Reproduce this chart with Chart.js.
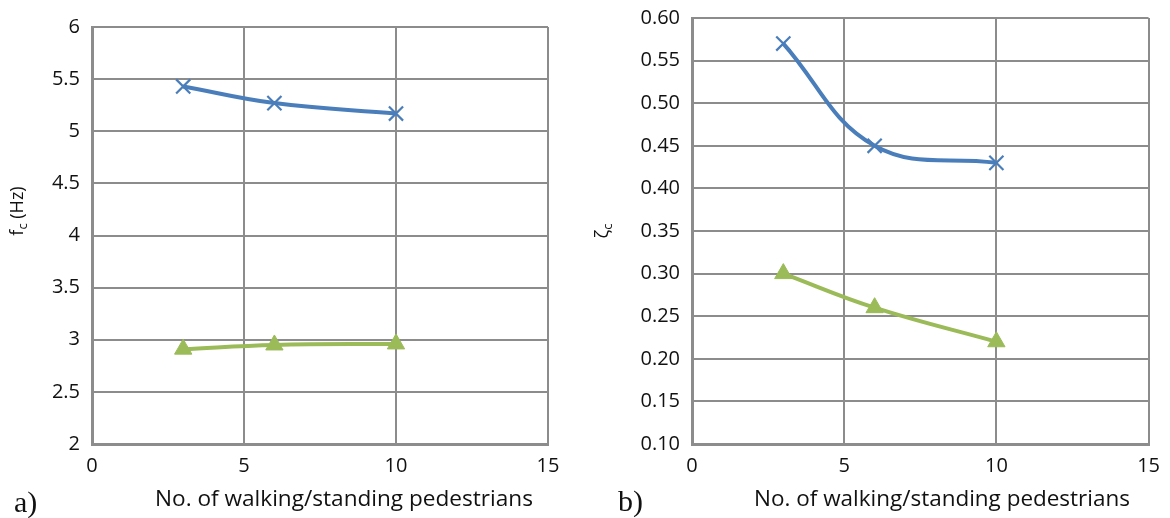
<!DOCTYPE html>
<html>
<head>
<meta charset="utf-8">
<script src="https://cdn.jsdelivr.net/npm/chart.js@4.4.1/dist/chart.umd.min.js"></script>
<style>
  html, body { margin: 0; padding: 0; background: #ffffff; }
  #wrap { position: relative; width: 1170px; height: 518px; overflow: hidden; }
  .panel { position: absolute; top: 0; width: 585px; height: 518px; }
  #panelA { left: 0; }
  #panelB { left: 585px; }
</style>
</head>
<body>
<div id="wrap">
  <div class="panel" id="panelA"><canvas id="chartA" width="585" height="518"></canvas></div>
  <div class="panel" id="panelB"><canvas id="chartB" width="585" height="518"></canvas></div>
</div>
<script>
// Number of pedestrians on the deck
const pedestrians = [3, 6, 10];

// Panel a) frequency f_c (Hz)
const freqCross = [5.43, 5.27, 5.17];
const freqTriangle = [2.91, 2.95, 2.96];

// Panel b) damping ratio zeta_c
const dampCross = [0.57, 0.45, 0.43];
const dampTriangle = [0.30, 0.26, 0.22];

// Axis tick values
const xTicks = [0, 5, 10, 15];
const freqTicks = [2, 2.5, 3, 3.5, 4, 4.5, 5, 5.5, 6];
const dampTicks = [0.10, 0.15, 0.20, 0.25, 0.30, 0.35, 0.40, 0.45, 0.50, 0.55, 0.60];

const xTitle = 'No. of walking/standing pedestrians';

const BLUE = '#4a7ebb';
const GREEN = '#9bbb59';
const GRID = '#8c8c8c';
const TEXT = '#111111';
const SANS = '"Open Sans", "Liberation Sans", sans-serif';
const SERIF = '"Liberation Serif", "DejaVu Serif", serif';

function toPoints(xs, ys) {
  return xs.map((x, i) => ({ x: x, y: ys[i] }));
}

function crossSeries(values) {
  return {
    data: toPoints(pedestrians, values),
    showLine: true,
    tension: 0.4,
    borderColor: BLUE,
    backgroundColor: BLUE,
    borderWidth: 4,
    pointStyle: 'crossRot',
    pointRadius: 10,
    pointBorderWidth: 2.2,
    pointBorderColor: BLUE
  };
}

function triangleSeries(values) {
  return {
    data: toPoints(pedestrians, values),
    showLine: true,
    tension: 0.4,
    borderColor: GREEN,
    backgroundColor: GREEN,
    borderWidth: 4,
    pointStyle: 'triangle',
    pointRadius: 10,
    pointBorderWidth: 1,
    pointBorderColor: GREEN
  };
}

// Draws a rotated axis title made of a main symbol with a subscript and an optional tail
function drawRotatedTitle(ctx, cx, cy, main, sub, tail, mainFont, subFont) {
  ctx.save();
  ctx.translate(cx, cy);
  ctx.rotate(-Math.PI / 2);
  ctx.fillStyle = TEXT;
  ctx.textBaseline = 'alphabetic';
  ctx.font = mainFont;
  const wMain = ctx.measureText(main).width;
  const wTail = tail ? ctx.measureText(tail).width : 0;
  ctx.font = subFont;
  const wSub = ctx.measureText(sub).width;
  const total = wMain + wSub + wTail;
  let x = -total / 2;
  ctx.font = mainFont;
  ctx.fillText(main, x, 6);
  x += wMain;
  ctx.font = subFont;
  ctx.fillText(sub, x, 10);
  x += wSub;
  if (tail) {
    ctx.font = mainFont;
    ctx.fillText(tail, x, 6);
  }
  ctx.restore();
}

function titlesPlugin(cfg) {
  return {
    id: 'panelTitles',
    afterDraw(chart) {
      const ctx = chart.ctx;
      ctx.save();
      // x axis title, sized to its printed width
      ctx.font = '18px ' + SANS;
      const w = ctx.measureText(xTitle).width;
      const size = 18 * cfg.xTitleWidth / w;
      ctx.font = size.toFixed(2) + 'px ' + SANS;
      ctx.fillStyle = TEXT;
      ctx.textAlign = 'center';
      ctx.textBaseline = 'middle';
      ctx.fillText(xTitle, cfg.xTitleX, cfg.xTitleY);
      // panel letter
      ctx.font = '30px ' + SERIF;
      ctx.textAlign = 'left';
      ctx.textBaseline = 'alphabetic';
      ctx.fillText(cfg.letter, cfg.letterX, cfg.letterY);
      ctx.restore();
      drawRotatedTitle(ctx, cfg.yTitleX, cfg.yTitleY, cfg.yMain, cfg.ySub, cfg.yTail,
        cfg.yMainFont, cfg.ySubFont);
    }
  };
}

function makeChart(canvasId, datasets, yTicks, yFormat, yWidth, pad, titles) {
  const yMin = yTicks[0];
  const yMax = yTicks[yTicks.length - 1];
  return new Chart(document.getElementById(canvasId), {
    type: 'scatter',
    data: { datasets: datasets },
    options: {
      responsive: false,
      animation: false,
      layout: { padding: pad },
      plugins: {
        legend: { display: false },
        tooltip: { enabled: false }
      },
      scales: {
        x: {
          type: 'linear',
          min: xTicks[0],
          max: xTicks[xTicks.length - 1],
          afterBuildTicks(scale) { scale.ticks = xTicks.map(v => ({ value: v })); },
          afterFit(scale) { scale.height = 34; },
          grid: { color: GRID, lineWidth: 2, drawTicks: false },
          border: { color: GRID, width: 3 },
          ticks: {
            color: TEXT,
            padding: 10,
            font: { family: SANS, size: 20 },
            maxRotation: 0,
            callback: v => String(v)
          }
        },
        y: {
          type: 'linear',
          min: yMin,
          max: yMax,
          afterBuildTicks(scale) { scale.ticks = yTicks.map(v => ({ value: v })); },
          afterFit(scale) { scale.width = yWidth; },
          grid: { color: GRID, lineWidth: 2, drawTicks: false },
          border: { color: GRID, width: 3 },
          ticks: {
            color: TEXT,
            padding: 12,
            font: { family: SANS, size: 20, lineHeight: 0.6 },
            callback: yFormat
          }
        }
      }
    },
    plugins: [titlesPlugin(titles)]
  });
}

makeChart('chartA',
  [crossSeries(freqCross), triangleSeries(freqTriangle)],
  freqTicks,
  v => String(v),
  92,
  { left: 0, right: 37, top: 27, bottom: 40 },
  {
    xTitleX: 344, xTitleY: 500, xTitleWidth: 378,
    letter: 'a)', letterX: 14, letterY: 512,
    yTitleX: 17, yTitleY: 211,
    yMain: 'f', ySub: 'c', yTail: ' (Hz)',
    yMainFont: '18px ' + SANS, ySubFont: '13px ' + SANS
  });

makeChart('chartB',
  [crossSeries(dampCross), triangleSeries(dampTriangle)],
  dampTicks,
  v => Number(v).toFixed(2),
  107,
  { left: 0, right: 18, top: 17, bottom: 40 },
  {
    xTitleX: 357, xTitleY: 500, xTitleWidth: 376,
    letter: 'b)', letterX: 33, letterY: 511,
    yTitleX: 17, yTitleY: 231,
    yMain: '\u03B6', ySub: 'c', yTail: '',
    yMainFont: '18px ' + SANS, ySubFont: '13px ' + SANS
  });
</script>
</body>
</html>
